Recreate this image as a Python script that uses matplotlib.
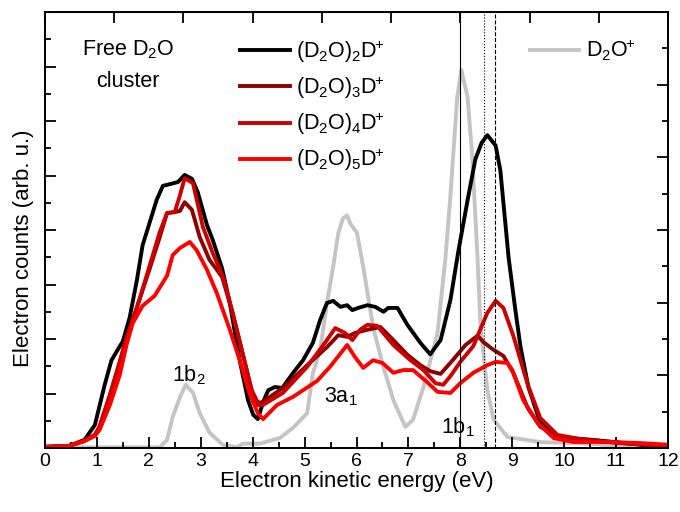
import numpy as np
import matplotlib
matplotlib.use('Agg')
import matplotlib.pyplot as plt

plt.rcParams['font.family'] = ['Liberation Sans', 'DejaVu Sans']
plt.rcParams['mathtext.fontset'] = 'custom'
plt.rcParams['mathtext.rm'] = 'Liberation Sans'
plt.rcParams['mathtext.it'] = 'Liberation Sans:italic'
plt.rcParams['mathtext.bf'] = 'Liberation Sans:bold'

# (D2O)2D+  (left axis, arb. u.)
x_n2 = [0.00, 0.47, 0.76, 0.96, 1.15, 1.28, 1.50, 1.63, 1.77, 1.88, 2.02, 2.15, 2.27, 2.40, 2.56,
        2.69, 2.83, 2.94, 3.12, 3.23, 3.41, 3.56, 3.75, 3.91, 4.01, 4.10, 4.20, 4.30, 4.43, 4.57,
        4.78, 4.97, 5.16, 5.30, 5.43, 5.55, 5.69, 5.82, 5.92, 6.03, 6.21, 6.36, 6.52, 6.61, 6.79,
        6.98, 7.23, 7.42, 7.62, 7.81, 7.96, 8.14, 8.29, 8.41, 8.52, 8.68, 8.77, 8.93, 9.06, 9.16,
        9.31, 9.54, 9.87, 10.51, 10.96, 11.48, 12.00]
y_n2 = [0.02, 0.04, 0.15, 0.42, 1.16, 1.61, 1.96, 2.39, 3.08, 3.72, 4.15, 4.55, 4.81, 4.84, 4.88,
        5.01, 4.94, 4.70, 4.09, 3.82, 3.30, 2.66, 1.61, 0.88, 0.61, 0.53, 0.84, 1.06, 1.12, 1.10,
        1.38, 1.61, 1.93, 2.35, 2.66, 2.70, 2.59, 2.62, 2.53, 2.57, 2.62, 2.59, 2.50, 2.57, 2.57,
        2.26, 1.93, 1.72, 1.98, 2.72, 3.60, 4.55, 5.30, 5.60, 5.74, 5.55, 5.10, 3.49, 2.53, 1.85,
        1.12, 0.46, 0.20, 0.15, 0.11, 0.06, 0.04]

# (D2O)3D+
x_n3 = [0.00, 0.47, 0.76, 0.96, 1.05, 1.25, 1.44, 1.57, 1.69, 1.82, 2.02, 2.21, 2.35, 2.50, 2.60,
        2.69, 2.83, 2.98, 3.17, 3.41, 3.60, 3.79, 3.98, 4.10, 4.18, 4.58, 5.05, 5.43, 5.65, 5.82,
        5.97, 6.21, 6.46, 6.71, 6.98, 7.23, 7.42, 7.62, 7.87, 8.10, 8.33, 8.45, 8.64, 8.83, 9.02,
        9.30, 9.54, 9.93, 10.51, 11.09, 12.00]
y_n3 = [0.02, 0.04, 0.13, 0.24, 0.39, 0.97, 1.58, 2.02, 2.35, 2.72, 3.30, 3.87, 4.31, 4.33, 4.35,
        4.51, 4.37, 3.87, 3.45, 3.14, 2.53, 1.80, 1.06, 0.83, 0.84, 1.10, 1.52, 1.85, 2.07, 2.04,
        2.11, 2.17, 2.22, 1.98, 1.71, 1.52, 1.41, 1.36, 1.63, 1.89, 2.06, 1.94, 1.80, 1.69, 1.38,
        0.73, 0.39, 0.18, 0.15, 0.09, 0.04]

# (D2O)4D+
x_n4 = [0.00, 0.47, 0.76, 0.96, 1.05, 1.25, 1.44, 1.57, 1.69, 1.82, 2.02, 2.21, 2.35, 2.50, 2.60,
        2.69, 2.85, 3.04, 3.23, 3.43, 3.60, 3.79, 3.98, 4.10, 4.20, 4.58, 5.05, 5.43, 5.59, 5.78,
        5.92, 6.07, 6.21, 6.40, 6.71, 7.04, 7.29, 7.52, 7.67, 7.81, 8.00, 8.25, 8.52, 8.68, 8.83,
        9.02, 9.30, 9.54, 9.87, 10.51, 11.48, 12.00]
y_n4 = [0.02, 0.04, 0.13, 0.24, 0.39, 0.97, 1.58, 2.02, 2.35, 2.73, 3.36, 3.96, 4.31, 4.33, 4.64,
        4.95, 4.86, 4.06, 3.58, 3.14, 2.53, 1.80, 1.06, 0.79, 0.79, 1.01, 1.49, 1.98, 2.20, 2.11,
        1.98, 2.17, 2.26, 2.24, 1.89, 1.61, 1.43, 1.19, 1.16, 1.32, 1.58, 1.87, 2.48, 2.70, 2.57,
        2.06, 1.16, 0.55, 0.24, 0.13, 0.07, 0.04]

# (D2O)5D+
x_n5 = [0.00, 0.47, 0.76, 0.96, 1.05, 1.25, 1.44, 1.57, 1.69, 1.88, 2.11, 2.35, 2.46, 2.60, 2.79,
        2.92, 3.12, 3.31, 3.56, 3.75, 3.95, 4.10, 4.20, 4.47, 4.78, 5.24, 5.49, 5.82, 5.97, 6.13,
        6.32, 6.50, 6.71, 6.90, 7.09, 7.36, 7.56, 7.81, 8.00, 8.25, 8.52, 8.68, 8.91, 9.00, 9.21,
        9.49, 9.80, 10.18, 10.84, 11.48, 12.00]
y_n5 = [0.02, 0.04, 0.13, 0.22, 0.33, 0.79, 1.34, 1.89, 2.29, 2.61, 2.79, 3.16, 3.54, 3.67, 3.78,
        3.63, 3.27, 2.84, 2.17, 1.61, 0.97, 0.64, 0.53, 0.79, 0.94, 1.23, 1.49, 1.89, 1.67, 1.47,
        1.61, 1.56, 1.38, 1.43, 1.43, 1.21, 1.03, 1.01, 1.19, 1.38, 1.52, 1.58, 1.56, 1.43, 0.88,
        0.46, 0.18, 0.11, 0.11, 0.09, 0.06]

# D2O+ monomer (right axis)
x_mono = [0.00, 2.21, 2.35, 2.46, 2.60, 2.71, 2.85, 2.98, 3.17, 3.43, 3.70, 3.81, 4.14, 4.53,
          4.78, 5.05, 5.16, 5.30, 5.43, 5.55, 5.65, 5.74, 5.82, 5.88, 6.01, 6.13, 6.32, 6.52,
          6.71, 6.94, 7.09, 7.29, 7.56, 7.71, 7.81, 7.94, 8.02, 8.14, 8.23, 8.33, 8.39, 8.52,
          8.64, 8.91, 9.55, 10.18, 10.84, 12.00]
y_mono = [0.01, 0.01, 0.11, 0.43, 0.70, 0.87, 0.76, 0.48, 0.21, 0.04, 0.01, 0.06, 0.06, 0.14,
          0.28, 0.48, 1.03, 1.35, 1.99, 2.49, 2.96, 3.16, 3.20, 3.09, 2.96, 2.49, 1.66, 1.11,
          0.66, 0.29, 0.39, 0.84, 1.58, 2.59, 3.48, 4.83, 5.20, 4.83, 4.00, 2.63, 1.66, 0.80,
          0.39, 0.15, 0.08, 0.07, 0.04, 0.03]

labels = [r'(D$_2$O)$_2\mathrm{D}^{\!\!+}$', r'(D$_2$O)$_3\mathrm{D}^{\!\!+}$',
          r'(D$_2$O)$_4\mathrm{D}^{\!\!+}$', r'(D$_2$O)$_5\mathrm{D}^{\!\!+}$']
colors = ['#000000', '#8B0000', '#CC0000', '#FF0000']
vlines = [8.0, 8.46, 8.66]
vstyles = ['-', ':', '--']

fs = 15.5
fig = plt.figure(figsize=(6.8, 5.12), dpi=100)
ax = fig.add_axes([45/680, 64/512, 623/680, 436/512])
ax2 = ax.twinx()
ax.set_zorder(ax2.get_zorder() + 1)
ax.patch.set_visible(False)

ax2.plot(x_mono, y_mono, color='#C4C4C4', lw=2.8, label=r'D$_2\mathrm{O}^{\!\!+}$')

for xs, ys, lab, c in zip([x_n2, x_n3, x_n4, x_n5], [y_n2, y_n3, y_n4, y_n5], labels, colors):
    ax.plot(xs, ys, color=c, lw=2.8, label=lab)

for xv, ls in zip(vlines, vstyles):
    ax.axvline(xv, color='black', lw=0.8, ls=ls)

ax.set_xlim(0, 12)
ax.set_ylim(0, 8)
ax2.set_ylim(0, 6)
ax.set_xticks(np.arange(0, 13, 1))
ax.set_xticks(np.arange(0, 12.01, 0.5), minor=True)
ax.set_yticks(np.arange(0, 9, 1))
ax.set_yticks(np.arange(0, 8.01, 0.5), minor=True)
ax2.set_yticks(np.arange(0, 7, 1))
ax2.set_yticks(np.arange(0, 6.01, 0.5), minor=True)
ax.tick_params(which='both', direction='in', top=False, right=False, labelleft=False,
               width=1.3, labelsize=14)
ax.tick_params(which='major', length=8)
ax.tick_params(which='minor', length=4)
ax2.tick_params(which='both', direction='in', labelright=False, width=1.3)
ax2.tick_params(which='major', length=8)
ax2.tick_params(which='minor', length=4)

top = ax.secondary_xaxis('top')
top.set_xticks(np.linspace(0, 12, 10))
top.tick_params(direction='in', length=8, width=1.3, labeltop=False)

for a in (ax, ax2):
    for s in a.spines.values():
        s.set_linewidth(1.3)

ax.set_xlabel('Electron kinetic energy (eV)', fontsize=16, labelpad=1)
ax.set_ylabel('Electron counts (arb. u.)', fontsize=16)
ax.yaxis.set_label_coords(-0.017, 0.459)

ax.legend(loc='upper left', bbox_to_anchor=(0.313, 0.940), frameon=False, fontsize=fs,
          handlelength=2.3, handletextpad=0.3, labelspacing=0.45, borderpad=0, borderaxespad=0)
ax2.legend(loc='upper left', bbox_to_anchor=(0.778, 0.940), frameon=False, fontsize=fs,
           handlelength=2.3, handletextpad=0.3, borderpad=0, borderaxespad=0)

ax.text(0.133, 0.878, 'Free D$_2$O\ncluster', transform=ax.transAxes, ha='center', va='center',
        fontsize=fs, linespacing=1.6)
ax.text(2.77, 1.34, '1b$_2$', ha='center', va='center', fontsize=fs)
ax.text(5.70, 0.94, '3a$_1$', ha='center', va='center', fontsize=fs)
ax.text(7.96, 0.39, '1b$_1$', ha='center', va='center', fontsize=fs)

fig.savefig('out.png', dpi=100)
